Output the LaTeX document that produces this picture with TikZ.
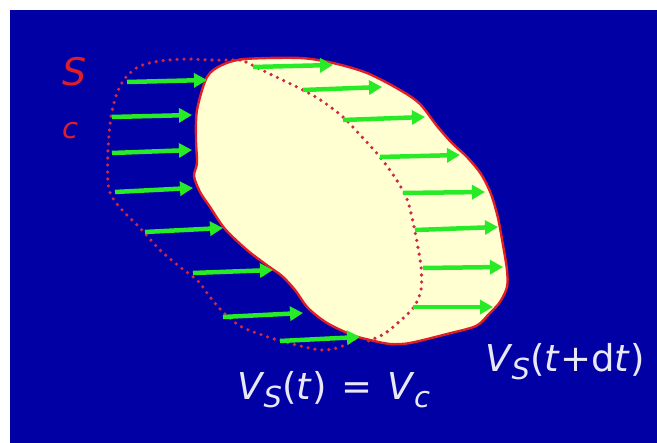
\documentclass[tikz,border=0pt]{standalone}
\usepackage{fontspec}
\setmainfont{DejaVu Sans}
\usetikzlibrary{arrows.meta}

\definecolor{bgblue}{RGB}{0,0,165}
\definecolor{solidfill}{RGB}{255,255,210}
\definecolor{flowgreen}{RGB}{40,235,40}
\definecolor{rimred}{RGB}{225,30,40}
\definecolor{dotred}{RGB}{205,40,70}
\definecolor{labwhite}{RGB}{232,232,248}

% lowered subscript as in the slide
\newcommand{\lowsub}[1]{\kern-1pt\raisebox{-0.21em}{\fontsize{29}{30}\selectfont\textit{#1}}}

\begin{document}
\begin{tikzpicture}[x=1pt, y=-1pt,
    flow/.style={draw=flowgreen, line width=4.5pt, -{Triangle[length=13pt, width=14pt]}},
    rim/.style={draw=rimred, line width=2.4pt},
    dotline/.style={draw=dotred, line width=3.6pt, line cap=round, dash pattern=on 0pt off 7pt},
    lbl/.style={text=labwhite, font=\fontsize{37}{40}\selectfont, inner sep=0pt},
    redlbl/.style={text=rimred, inner sep=0pt}]
    \useasboundingbox (0,0) rectangle (657,443);
    \fill[white] (0,0) rectangle (657,443);
    \fill[bgblue] (10,10) rectangle (657,443);

    % volume at t+dt
    \fill[solidfill] plot[smooth cycle, tension=0.5] coordinates {
        (207,77) (222,65) (245,59) (300,58) (333,63) (367,73) (400,90) (420,104)
        (437,126) (452,143) (467,157) (481,174) (491,194) (498,218) (503,245)
        (507,270) (507,287) (500,302) (489,314) (476,326) (447,334) (410,343)
        (390,344) (370,340) (352,335) (327,323) (308,308) (295,290) (282,276)
        (268,266) (247,250) (225,229) (210,207) (200,192) (194,176) (197,163)
        (196,140) (197,110)};

    % volume at t (dotted)
    \draw[dotline] plot[smooth, tension=0.5] coordinates {
        (246,62) (270,74) (303,90) (322,101) (343,117) (362,137) (380,157)
        (396,179) (407,199) (413,222) (417,242) (421,267) (421,290) (414,307)
        (400,321) (384,334) (368,341)};
    \draw[dotline] plot[smooth, tension=0.5] coordinates {
        (240,60) (210,60) (187,59) (160,61) (140,66) (126,77) (117,93) (111,117)
        (108,150) (108,183) (112,197) (123,211) (140,228) (160,250) (180,267)
        (198,281) (210,297) (222,311) (240,326) (262,335) (285,342) (320,350)
        (340,347) (357,338)};

    \draw[rim] plot[smooth cycle, tension=0.5] coordinates {
        (207,77) (222,65) (245,59) (300,58) (333,63) (367,73) (400,90) (420,104)
        (437,126) (452,143) (467,157) (481,174) (491,194) (498,218) (503,245)
        (507,270) (507,287) (500,302) (489,314) (476,326) (447,334) (410,343)
        (390,344) (370,340) (352,335) (327,323) (308,308) (295,290) (282,276)
        (268,266) (247,250) (225,229) (210,207) (200,192) (194,176) (197,163)
        (196,140) (197,110)};

    % velocity arrows
    \foreach \xa/\ya/\xb/\yb in {127/82/207/80, 112/117/192/115, 112/153/192/150,
        115/192/193/188, 145/232/223/228, 193/273/273/270, 223/317/303/313,
        280/341/360/337, 253/67/333/65, 303/90/382/87, 343/120/425/117,
        380/157/460/155, 403/193/485/192, 415/230/498/227, 423/268/503/267,
        413/307/493/307}
        \draw[flow] (\xa,\ya) -- (\xb,\yb);

    \node[redlbl, font=\fontsize{38}{40}\selectfont] (labS) at (75,72) {\textit{S}};
    \node[redlbl, font=\fontsize{29}{30}\selectfont] (labC) at (70,131) {\textit{c}};

    \node[lbl, anchor=base west] (vst) at (237,400)
        {\textit{V}\lowsub{S}(\textit{t})\hspace{15pt}=\hspace{15pt}\textit{V}\lowsub{c}};
    \node[lbl, anchor=base west] (vsdt) at (485,372)
        {\textit{V}\lowsub{S}(\textit{t}+d\textit{t})};
\end{tikzpicture}
\end{document}
